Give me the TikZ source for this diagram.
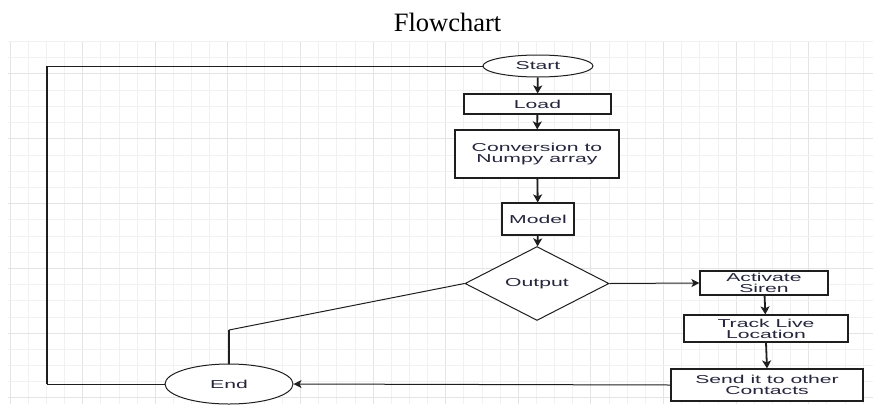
\documentclass[tikz,border=0pt]{standalone}
\usepackage{fontspec}
\setmainfont{Liberation Serif}
\newfontfamily\boxfont[FakeStretch=1.84]{Liberation Sans}
\usetikzlibrary{shapes.geometric,arrows.meta}
\definecolor{gridminor}{HTML}{F1F1F1}
\definecolor{gridmajor}{HTML}{E4E4E4}
\definecolor{txt}{HTML}{25253D}
\definecolor{ln}{HTML}{1E1E1E}
\tikzset{
  base/.style={draw=ln, line width=1.2pt, fill=white, inner sep=0pt, align=center,
    text=txt, font=\boxfont\fontsize{11.5}{11}\selectfont},
  stepbox/.style={base, rectangle},
  term/.style={base, ellipse, line width=1pt},
  decide/.style={base, diamond, line width=1pt},
  flowv/.style={draw=ln, line width=1.8pt, -{Stealth[length=8pt,width=9pt,inset=2pt]}},
  flowh/.style={draw=ln, line width=1pt, -{Stealth[length=8pt,width=8pt,inset=2pt]}},
  linkv/.style={draw=ln, line width=1.8pt},
  linkh/.style={draw=ln, line width=1pt},
}
\begin{document}
\begin{tikzpicture}[x=1pt,y=-1pt]
\useasboundingbox (0,0) rectangle (873,408);
% grid
\foreach \i in {0,...,47}{
  \pgfmathsetmacro{\gx}{10.1+18.15*\i}
  \pgfmathtruncatemacro{\m}{mod(\i,4)}
  \ifnum\m=0 \draw[gridmajor,line width=0.9pt] (\gx,41.5) -- (\gx,404);
  \else \draw[gridminor,line width=0.8pt] (\gx,41.5) -- (\gx,404); \fi
}
\foreach \j in {0,...,22}{
  \pgfmathsetmacro{\gy}{41.5+16.2*\j}
  \pgfmathtruncatemacro{\m}{mod(\j+2,4)}
  \ifnum\m=0 \draw[gridmajor,line width=0.9pt] (8,\gy) -- (873,\gy);
  \else \draw[gridminor,line width=0.8pt] (8,\gy) -- (873,\gy); \fi
}
% title
\node[anchor=base, font=\fontsize{26.5}{30}\selectfont, inner sep=0pt] (title) at (447.5,31.7) {Flowchart};
% nodes
\node[term, minimum width=110pt, minimum height=22pt] (start) at (538,66) {Start};
\node[stepbox, minimum width=147pt, minimum height=20pt] (load) at (537.5,104) {Load};
\node[stepbox, minimum width=164pt, minimum height=48pt] (conv) at (537,154) {Conversion to\\Numpy array};
\node[stepbox, minimum width=72pt, minimum height=32pt] (model) at (538,219) {Model};
\node[decide, minimum width=144pt, minimum height=63pt] (dec) at (537,283.5) {Output};
\node[stepbox, minimum width=128pt, minimum height=24pt] (siren) at (764,283) {Activate\\Siren};
\node[stepbox, minimum width=164pt, minimum height=27pt] (track) at (766,328.5) {Track Live\\Location};
\node[stepbox, minimum width=192pt, minimum height=32pt] (send) at (767,385) {Send it to other\\Contacts};
\node[term, minimum width=128pt, minimum height=40pt] (end) at (229,384) {End};
\coordinate (lt) at (47,66);
\coordinate (lb) at (47,384);
\coordinate (bend) at (229,330);
% connectors
\draw[flowv] (start) -- (load);
\draw[flowv] (load) -- (conv);
\draw[flowv] (conv) -- (model);
\draw[flowv] (model) -- (dec);
\draw[flowh] (dec.east) -- (siren.west);
\draw[flowv] (siren) -- (track);
\draw[flowv] (track.south) -- (send.north);
\draw[flowh] (send.west) -- (end.east);
\draw[linkh] (start.west) -- (lt);
\draw[linkv] (lt) -- (lb);
\draw[linkh] (lb) -- (end.west);
\draw[linkh] (dec.west) -- (bend);
\draw[linkv] (bend) -- (end.north);
\end{tikzpicture}
\end{document}
